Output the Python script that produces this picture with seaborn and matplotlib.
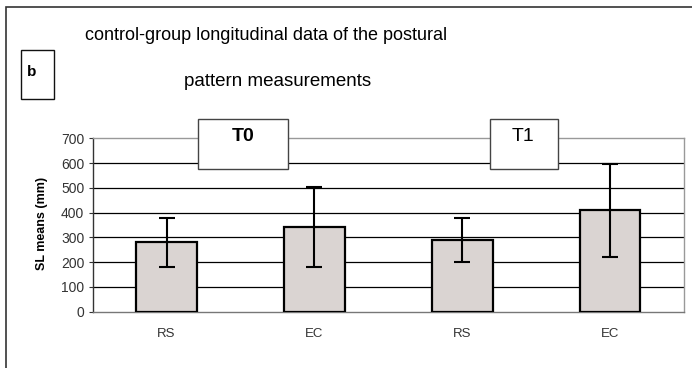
import matplotlib
matplotlib.use("Agg")
import matplotlib.pyplot as plt
import seaborn as sns
import pandas as pd
from matplotlib.patches import Rectangle

# ---- data ----
conditions = ["T0 RS", "T0 EC", "T1 RS", "T1 EC"]
tick_labels = ["RS", "EC", "RS", "EC"]
means = [280, 342, 290, 410]
sds = [100, 160, 90, 188]
y_ticks = [0, 100, 200, 300, 400, 500, 600, 700]
title_lines = ["control-group longitudinal data of the postural", "pattern measurements"]
ylabel = "SL means (mm)"
period_labels = ["T0", "T1"]
panel_label = "b"

df = pd.DataFrame({"cond": conditions, "mean": means, "sd": sds})

sns.set_theme(style="white")
plt.rcParams["font.family"] = ["Liberation Sans", "DejaVu Sans"]

W, H = 692, 368
fig = plt.figure(figsize=(W / 100, H / 100), dpi=100)
ax = fig.add_axes([92.7 / W, 1 - 311.7 / H, 591.3 / W, 173.4 / H])

sns.barplot(data=df, x="cond", y="mean", order=conditions, color="#DAD4D2",
            width=0.41, edgecolor="black", linewidth=1.6, errorbar=None,
            saturation=1, ax=ax, zorder=3)
ax.errorbar(range(len(conditions)), df["mean"], yerr=df["sd"], fmt="none",
            ecolor="black", elinewidth=1.5, capsize=5.5, capthick=1.5, zorder=4)

ax.set_xlim(-0.5, len(conditions) - 0.5)
ax.set_ylim(0, 700)
ax.set_yticks(y_ticks)
ax.set_yticklabels([str(v) for v in y_ticks], fontsize=10, color="#333333")
ax.set_xticks(range(len(conditions)))
ax.set_xticklabels(tick_labels, fontsize=9.5, color="#333333")
ax.set_xticks([-0.5 + i for i in range(len(conditions) + 1)], minor=True)
ax.tick_params(axis="x", which="major", length=0, pad=12)
ax.tick_params(axis="x", which="minor", length=3, width=0.8, color="#555555", direction="out")
ax.tick_params(axis="y", which="major", length=3, width=0.8, color="#333333", pad=3, left=True)
ax.set_xlabel("")
ax.set_ylabel("")

for y in y_ticks[1:-1]:
    ax.axhline(y, color="black", linewidth=0.9, zorder=1)

for side in ["top", "right"]:
    ax.spines[side].set_visible(True)
    ax.spines[side].set_color("#999999")
    ax.spines[side].set_linewidth(1.0)
ax.spines["left"].set_color("#333333")
ax.spines["left"].set_linewidth(1.0)
ax.spines["bottom"].set_color("#777777")
ax.spines["bottom"].set_linewidth(1.0)

def px_rect(x0, y0, x1, y1, lw=1.0, ec="#222222"):
    r = Rectangle((x0 / W, 1 - y1 / H), (x1 - x0) / W, (y1 - y0) / H,
                  transform=fig.transFigure, facecolor="white", edgecolor=ec,
                  linewidth=lw, zorder=10)
    fig.patches.append(r)

# outer frame
fig.patches.append(Rectangle((5.5 / W, -0.1), 1.2, 1 - 7 / H + 0.1,
                             transform=fig.transFigure, facecolor="none",
                             edgecolor="#333333", linewidth=1.2, zorder=0))

# period boxes
px_rect(198.3, 119.3, 287.7, 169.0, ec="#444444")
fig.text(243 / W, 1 - 136.5 / H, period_labels[0], ha="center", va="center",
         fontsize=14, fontweight="bold", color="black", zorder=11)
px_rect(489.7, 119.3, 558.3, 169.0, ec="#444444")
fig.text(523 / W, 1 - 136.5 / H, period_labels[1], ha="center", va="center",
         fontsize=14, color="black", zorder=11)

# panel label box
px_rect(20.7, 50, 54.3, 99, ec="#111111")
fig.text(27 / W, 1 - 72 / H, panel_label, ha="left", va="center",
         fontsize=11, fontweight="bold", color="black", zorder=11)

# title
fig.text(266.5 / W, 1 - 35 / H, title_lines[0], ha="center", va="center",
         fontsize=13, color="black")
fig.text(278 / W, 1 - 81 / H, title_lines[1], ha="center", va="center",
         fontsize=13.5, color="black")

# y label
fig.text(42.5 / W, 1 - 223 / H, ylabel, ha="center", va="center", rotation=90,
         fontsize=9, fontweight="bold", color="black")

fig.savefig("out.png", dpi=100)
